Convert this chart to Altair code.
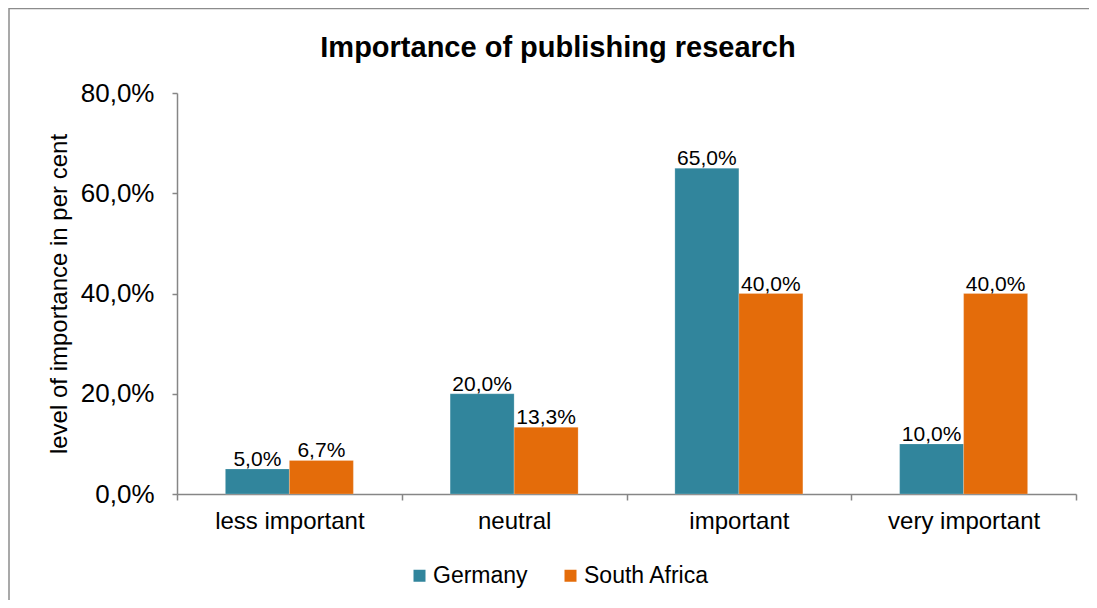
import altair as alt
import pandas as pd

categories = ["less important", "neutral", "important", "very important"]
series = ["Germany", "South Africa"]
germany = [0.05, 0.20, 0.65, 0.10]
south_africa = [0.067, 0.133, 0.40, 0.40]
y_ticks = [0.0, 0.2, 0.4, 0.6, 0.8]
colors = ["#31859C", "#E46C0A"]
title_text = "Importance of publishing research"
y_title = "level of importance in per cent"

rows = []
for c, g, s in zip(categories, germany, south_africa):
    rows.append({"category": c, "country": series[0], "value": g})
    rows.append({"category": c, "country": series[1], "value": s})
df = pd.DataFrame(rows)

FONT = "Liberation Sans"
GRAY = "#868686"
PCT = "replace(format(datum.value, '.1%'), '.', ',')"

x_enc = alt.X(
    "category:N", sort=categories,
    scale=alt.Scale(paddingInner=0, paddingOuter=0),
    axis=alt.Axis(title=None, labelAngle=0, labelFontSize=24, labelFont=FONT,
                  labelColor="#000000", tickBand="extent", tickSize=6,
                  tickColor=GRAY, domainColor=GRAY, domainWidth=1.5, tickWidth=1.5,
                  labelPadding=9, grid=False),
)
xoff_enc = alt.XOffset("country:N", sort=series,
                       scale=alt.Scale(paddingInner=0, paddingOuter=0.756))
y_enc = alt.Y(
    "value:Q", scale=alt.Scale(domain=[0, 0.8], nice=False),
    axis=alt.Axis(values=y_ticks, labelExpr=PCT, labelFontSize=26, labelFont=FONT,
                  labelColor="#000000", tickSize=5, tickColor=GRAY, domainColor=GRAY,
                  domainWidth=1.5, tickWidth=1.5, labelPadding=18, grid=False,
                  title=y_title, titleFont=FONT, titleFontSize=24, titleFontWeight="normal",
                  titleColor="#000000", titleAngle=270, titleBaseline="alphabetic",
                  titleAlign="center", titleX=-111, titleY=200.5),
)
color_enc = alt.Color(
    "country:N", sort=series,
    scale=alt.Scale(domain=series, range=colors),
    legend=alt.Legend(title=None, orient="none", legendX=231, legendY=471,
                      direction="horizontal", symbolType="square", symbolSize=144,
                      symbolStrokeWidth=0, symbolOpacity=1, labelFontSize=23, labelFont=FONT,
                      labelColor="#000000", labelOffset=2, columnPadding=31),
)

base = alt.Chart(df).transform_calculate(label=PCT)

bars = base.mark_bar(stroke="#ffffff", strokeWidth=0.4, strokeOpacity=0.5).encode(
    x=x_enc, xOffset=xoff_enc, y=y_enc, color=color_enc
)
labels = base.mark_text(baseline="alphabetic", dy=-3, fontSize=21, font=FONT,
                        color="#000000").encode(
    x=alt.X("category:N", sort=categories, axis=alt.Axis(grid=False)),
    xOffset=alt.XOffset("country:N", sort=series),
    y=alt.Y("value:Q", axis=alt.Axis(grid=False)),
    text="label:N"
)

title = alt.Chart(pd.DataFrame({"t": [title_text]})).mark_text(
    font=FONT, fontSize=29, fontWeight="bold", align="center", baseline="alphabetic",
    color="#000000"
).encode(x=alt.value(381), y=alt.value(-36), text="t:N")

frame_df = pd.DataFrame({"k": [0]})
left_line = alt.Chart(frame_df).mark_rule(color="#8c8c8c", strokeWidth=1.5).encode(
    x=alt.value(-168), y=alt.value(-85), y2=alt.value(520)
)
top_line = alt.Chart(frame_df).mark_rule(color="#8c8c8c", strokeWidth=1.5).encode(
    x=alt.value(-168), x2=alt.value(913), y=alt.value(-84.5)
)

chart = alt.layer(bars, labels, title, left_line, top_line).properties(
    width=899, height=401,
    autosize=alt.AutoSizeParams(type="none"),
    padding={"left": 169, "top": 85, "right": 13, "bottom": 106},
    view=alt.ViewBackground(strokeWidth=0, strokeOpacity=0),
).configure_view(strokeWidth=0, strokeOpacity=0).configure_axis(grid=False).configure(font=FONT)

chart.save("out.html", embed_options={"renderer": "svg", "actions": False})
